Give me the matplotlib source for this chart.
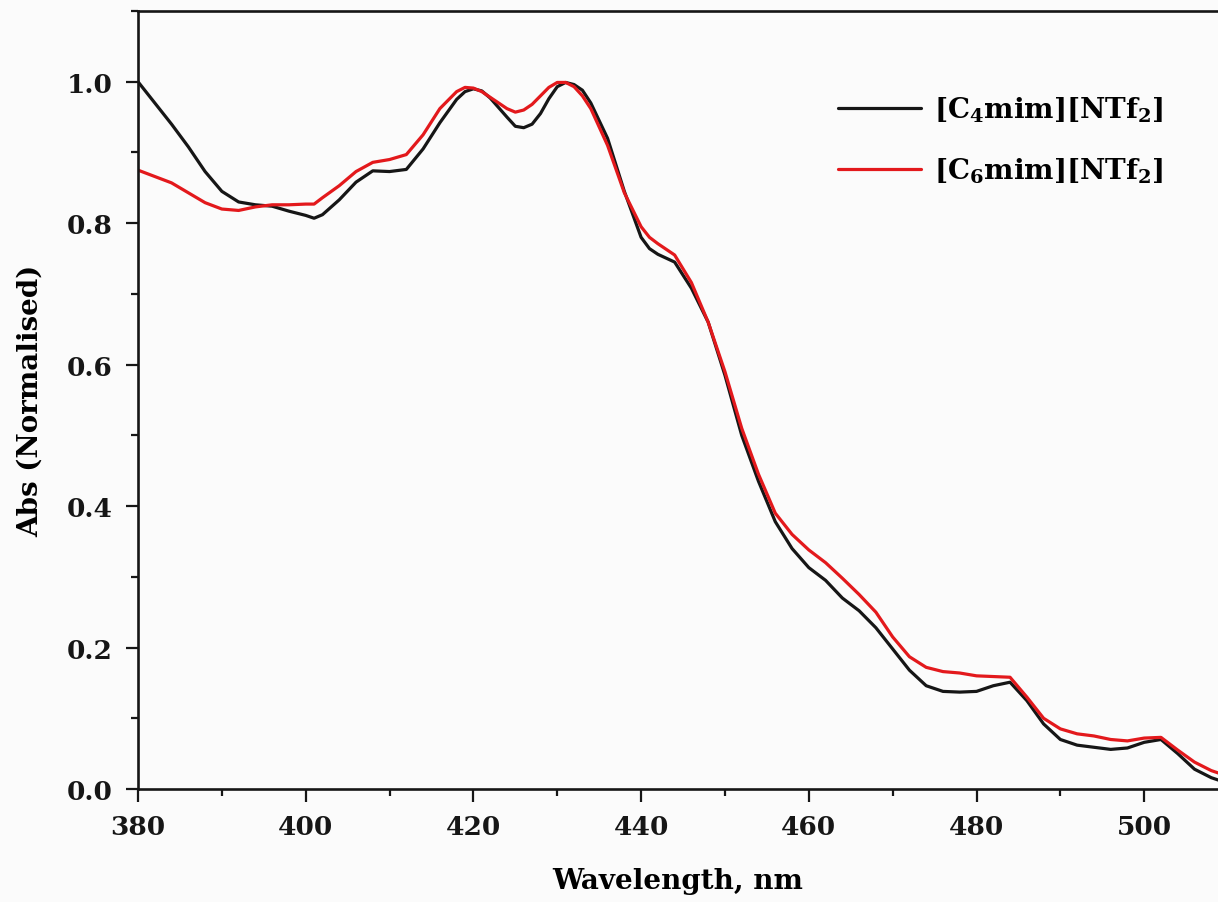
# Normalised absorbance spectra of the dye in two imidazolium NTf2 ionic liquids.
import matplotlib.pyplot as plt
from matplotlib.ticker import MultipleLocator

# wavelength grid (nm) the values were read on
wavelength = [
    380, 382, 384, 386, 388, 390, 392, 394, 396, 398, 400, 401, 402, 404,
    406, 408, 410, 412, 414, 416, 418, 419, 420, 421, 422, 424, 425, 426,
    427, 428, 429, 430, 431, 432, 433, 434, 436, 438, 440, 441, 442, 444,
    446, 448, 450, 452, 454, 456, 458, 460, 462, 464, 466, 468, 470, 472,
    474, 476, 478, 480, 482, 484, 486, 488, 490, 492, 494, 496, 498, 500,
    502, 504, 506, 508, 509,
]

abs_c4 = [
    1.000, 0.970, 0.940, 0.908, 0.873, 0.845, 0.830, 0.826, 0.824, 0.817,
    0.811, 0.807, 0.812, 0.833, 0.858, 0.874, 0.873, 0.876, 0.905, 0.942,
    0.975, 0.986, 0.990, 0.987, 0.977, 0.950, 0.937, 0.935, 0.940, 0.955,
    0.976, 0.993, 0.999, 0.996, 0.988, 0.970, 0.920, 0.845, 0.780, 0.764,
    0.756, 0.745, 0.708, 0.660, 0.585, 0.500, 0.435, 0.378, 0.340, 0.313,
    0.295, 0.270, 0.252, 0.228, 0.198, 0.168, 0.146, 0.138, 0.137, 0.138,
    0.146, 0.151, 0.125, 0.092, 0.070, 0.062, 0.059, 0.056, 0.058, 0.066,
    0.070, 0.050, 0.028, 0.016, 0.012,
]

abs_c6 = [
    0.875, 0.866, 0.857, 0.843, 0.829, 0.820, 0.818, 0.823, 0.826, 0.826,
    0.827, 0.827, 0.836, 0.853, 0.873, 0.886, 0.890, 0.897, 0.925, 0.962,
    0.986, 0.992, 0.991, 0.986, 0.978, 0.962, 0.957, 0.960, 0.968, 0.980,
    0.992, 0.999, 0.999, 0.993, 0.980, 0.962, 0.910, 0.843, 0.795, 0.780,
    0.771, 0.755, 0.716, 0.660, 0.590, 0.510, 0.445, 0.390, 0.360, 0.338,
    0.320, 0.298, 0.275, 0.250, 0.215, 0.187, 0.172, 0.166, 0.164, 0.160,
    0.159, 0.158, 0.130, 0.100, 0.085, 0.078, 0.075, 0.070, 0.068, 0.072,
    0.073, 0.055, 0.038, 0.026, 0.022,
]

labels = [r"[C$_4$mim][NTf$_2$]", r"[C$_6$mim][NTf$_2$]"]
colours = ["#161616", "#e3191c"]

plt.rcParams["font.family"] = ["DejaVu Serif"]
plt.rcParams["font.weight"] = "bold"
plt.rcParams["mathtext.fontset"] = "custom"
plt.rcParams["mathtext.rm"] = "DejaVu Serif:bold"
plt.rcParams["mathtext.default"] = "rm"

fig = plt.figure(figsize=(12.18, 9.03), dpi=100, facecolor="#fbfbfb")
ax = fig.add_axes([138 / 1218, 113 / 903, 1 - 138 / 1218, 778 / 903])
ax.set_facecolor("#fbfbfb")

for y, lab, col in zip([abs_c4, abs_c6], labels, colours):
    ax.plot(wavelength, y, color=col, lw=2.3, label=lab,
            solid_joinstyle="round", solid_capstyle="round")

ax.set_xlim(380, 508.8)
ax.set_ylim(0, 1.1)
ax.xaxis.set_major_locator(MultipleLocator(20))
ax.xaxis.set_minor_locator(MultipleLocator(10))
ax.yaxis.set_major_locator(MultipleLocator(0.2))
ax.yaxis.set_minor_locator(MultipleLocator(0.1))
ax.yaxis.set_major_formatter(lambda v, pos: f"{v:.1f}")

ax.spines["right"].set_visible(False)
for side in ("left", "bottom", "top"):
    ax.spines[side].set_linewidth(1.9)
    ax.spines[side].set_color("#161616")

ax.tick_params(which="major", direction="out", length=9, width=1.6,
               labelsize=19, colors="#161616")
ax.tick_params(which="minor", direction="out", length=5, width=1.6,
               colors="#161616")
ax.tick_params(axis="x", which="major", pad=9)
ax.tick_params(axis="y", which="major", pad=9)

ax.set_xlabel("Wavelength, nm", fontsize=20, fontweight="bold", labelpad=20)
ax.set_ylabel("Abs (Normalised)", fontsize=20, fontweight="bold", labelpad=17)

ax.legend(loc="upper left", bbox_to_anchor=(0.648, 0.893), frameon=False,
          fontsize=20, handlelength=3.0, handletextpad=0.45, labelspacing=1.15,
          borderpad=0, borderaxespad=0)

fig.savefig("out.png", dpi=100, facecolor=fig.get_facecolor())
